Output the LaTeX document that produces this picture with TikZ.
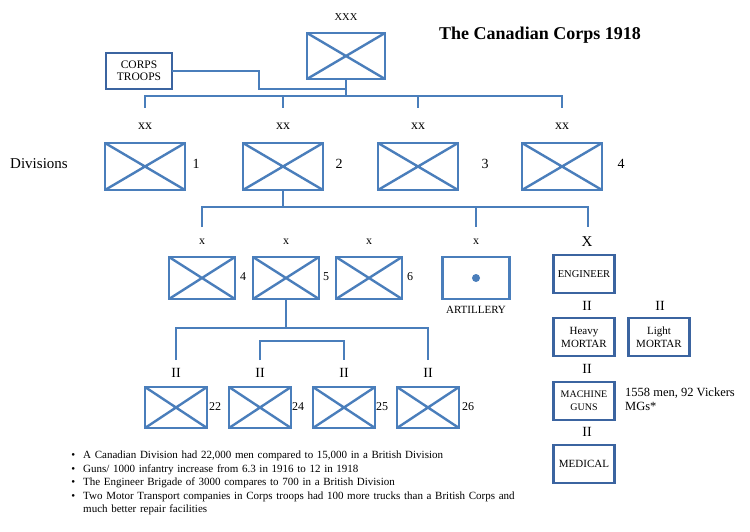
\documentclass[tikz,border=0pt]{standalone}
\usepackage{fontspec}
\setmainfont{Liberation Serif}
\usepackage{enumitem}
\usepackage{tikz}
\usetikzlibrary{positioning,calc}
\definecolor{unitblue}{HTML}{4A7EBB}
\definecolor{boxblue}{HTML}{3B64A0}

\begin{document}
\begin{tikzpicture}[x=1pt,y=-1pt,
  font=\fontsize{10}{12}\selectfont,
  link/.style={draw=unitblue,line width=2.6pt},
  unit/.style={draw=unitblue,line width=2.6pt,fill=white,outer sep=0pt,inner sep=0pt,
    minimum width=66pt,minimum height=42pt,
    path picture={\draw[unitblue,line width=2.4pt]
      (path picture bounding box.north west) -- (path picture bounding box.south east)
      (path picture bounding box.south west) -- (path picture bounding box.north east);}},
  div/.style={unit,minimum width=80pt,minimum height=47pt},
  bn/.style={unit,minimum width=62pt,minimum height=41pt},
  tbox/.style={draw=boxblue,line width=2.2pt,fill=white,align=center,outer sep=0pt,inner sep=1pt,
    minimum width=61pt,minimum height=38pt,font=\fontsize{9.5}{11.5}\selectfont},
  echelon/.style={font=\fontsize{14}{14}\selectfont},
  num/.style={font=\fontsize{12}{12}\selectfont}]
  \useasboundingbox (0,0) rectangle (750,532);
  % corps
  \node[font=\fontsize{10.5}{12}\selectfont] (xxx) at (346,17) {XXX};
  \node[unit,minimum width=78pt,minimum height=46pt] (corps) at (346,56) {};
  \node[font=\fontsize{18}{20}\selectfont\bfseries] (title) at (540,35) {The Canadian Corps 1918};
  \node[draw=boxblue,line width=2.2pt,align=center,minimum width=66pt,minimum height=36pt,
    inner sep=1pt,outer sep=0pt,font=\fontsize{11.5}{12.5}\selectfont] (troops) at (139,71) {CORPS\\TROOPS};
  \coordinate (divbar) at (346,96);
  \coordinate (divtop) at (0,108);
  \coordinate (trjoin) at (346,89);
  \draw[link] (corps.south) -- (divbar);
  \draw[link] (troops.east) -- (259,71) -- (259,89) -- (trjoin);
  % divisions
  \node[font=\fontsize{15}{16}\selectfont] (divlab) at (39,164) {Divisions};
  \foreach \n/\x/\lx in {1/145/196,2/283/339,3/418/485,4/562/621} {
    \node[div] (d\n) at (\x,166.5) {};
    \node[echelon] (dx\n) at (\x,126) {xx};
    \node[num,font=\fontsize{14}{14}\selectfont] (dn\n) at (\lx,164) {\n};
  }
  \draw[link] (d1 |- divtop) -- (d1 |- divbar) -- (d4 |- divbar) -- (d4 |- divtop);
  \draw[link] (d2 |- divbar) -- (d2 |- divtop);
  \draw[link] (d3 |- divbar) -- (d3 |- divtop);
  % brigades
  \coordinate (bdebar) at (283,207);
  \coordinate (bdetop) at (0,227);
  \foreach \n/\x/\lx in {4/202/243,5/286/326,6/369/410} {
    \node[unit] (b\n) at (\x,278) {};
    \node[echelon,font=\fontsize{12}{12}\selectfont] (bx\n) at (\x,242) {x};
    \node[num] (bn\n) at (\lx,277) {\n};
  }
  \node[draw=unitblue,line width=2.6pt,minimum width=67pt,minimum height=42pt,outer sep=0pt] (art) at (476,278) {};
  \fill[unitblue] (art.center) circle (4pt);
  \node[echelon,font=\fontsize{12}{12}\selectfont] (artx) at (476,242) {x};
  \node[font=\fontsize{11}{12}\selectfont] (artlab) at (476,310) {ARTILLERY};
  \node[font=\fontsize{15}{15}\selectfont] (engx) at (587,242) {X};
  \coordinate (engtop) at (588,227);
  \draw[link] (d2.south) -- (bdebar);
  \draw[link] (b4 |- bdetop) -- (b4 |- bdebar) -- (engtop |- bdebar) -- (engtop);
  \draw[link] (art |- bdebar) -- (art |- bdetop);
  % support units
  \node[tbox,font=\fontsize{10.5}{12}\selectfont] (eng) at (584,274) {ENGINEER};
  \node[tbox,font=\fontsize{11}{13}\selectfont] (hmor) at (584,337) {Heavy\\MORTAR};
  \node[tbox,font=\fontsize{11}{13}\selectfont] (lmor) at (659,337) {Light\\MORTAR};
  \node[tbox,font=\fontsize{10}{13}\selectfont] (mg) at (584,401) {MACHINE\\GUNS};
  \node[tbox,font=\fontsize{11}{12}\selectfont] (med) at (584,464) {MEDICAL};
  \node[echelon] (hmorx) at (587,306) {II};
  \node[echelon] (lmorx) at (660,306) {II};
  \node[echelon] (mgx) at (587,369) {II};
  \node[echelon] (medx) at (587,432) {II};
  \node[anchor=north west,align=left,inner sep=0pt,font=\fontsize{12.5}{14}\selectfont] (mgnote) at (625,388) {1558 men, 92 Vickers\\MGs*};
  % battalions
  \coordinate (bnbar) at (286,328);
  \coordinate (bninner) at (0,341);
  \coordinate (bntop) at (0,360);
  \foreach \n/\x/\lx/\lab in {1/176/215/22,2/260/298/24,3/344/382/25,4/428/468/26} {
    \node[bn] (bn\n) at (\x,407.5) {};
    \node[echelon] (bnx\n) at (\x,373) {II};
    \node[num] (bnl\n) at (\lx,407) {\lab};
  }
  \draw[link] (b5.south) -- (bnbar);
  \draw[link] (bn1 |- bntop) -- (bn1 |- bnbar) -- (bn4 |- bnbar) -- (bn4 |- bntop);
  \draw[link] (bn2 |- bntop) -- (bn2 |- bninner) -- (bn3 |- bninner) -- (bn3 |- bntop);
  % notes
  \node[anchor=north west,text width=462pt,inner sep=0pt,font=\fontsize{11}{13.5}\selectfont] (notes) at (67,445) {%
    \raggedright
    \begin{itemize}[leftmargin=16pt,labelsep=8pt,itemsep=0pt,topsep=0pt,parsep=0pt,partopsep=0pt]
    \item A Canadian Division had 22,000 men compared to 15,000 in a British Division
    \item Guns/ 1000 infantry increase from 6.3 in 1916 to 12 in 1918
    \item The Engineer Brigade of 3000 compares to 700 in a British Division
    \item Two Motor Transport companies in Corps troops had 100 more trucks than a British Corps and much better repair facilities
    \end{itemize}};
\end{tikzpicture}
\end{document}
